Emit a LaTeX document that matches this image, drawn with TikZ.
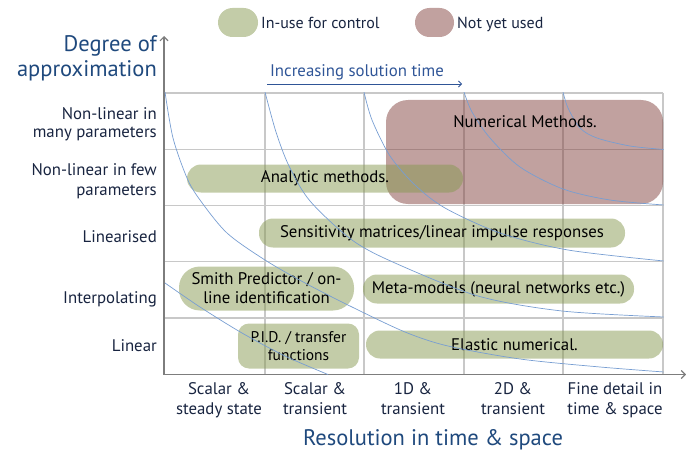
\documentclass[tikz,border=0pt]{standalone}
\usepackage{fontspec}
\setmainfont{PT Sans}
\usetikzlibrary{arrows.meta}

\definecolor{titleblue}{RGB}{31,73,125}
\definecolor{labelnavy}{RGB}{24,36,64}
\definecolor{usegreen}{RGB}{135,153,81}
\definecolor{notbrown}{RGB}{131,67,63}
\definecolor{curveblue}{RGB}{120,158,210}
\definecolor{gridgray}{RGB}{200,200,200}
\definecolor{axisgray}{RGB}{125,125,125}
\definecolor{timeblue}{RGB}{47,85,151}

\tikzset{
  txt/.style={font=\fontsize{16.8}{19}\selectfont, inner sep=0pt},
  rowlabel/.style={txt, text=labelnavy, anchor=base east},
  collabel/.style={txt, text=labelnavy, anchor=base},
  bigtitle/.style={font=\fontsize{22.5}{26}\selectfont, text=titleblue, inner sep=0pt},
  greenbox/.style={txt, fill=usegreen, fill opacity=.5, text opacity=1, align=center},
  brownbox/.style={txt, fill=notbrown, fill opacity=.5, text opacity=1},
  gridline/.style={draw=gridgray, line width=1.1pt},
  axisline/.style={draw=axisgray, line width=1.6pt, -{Straight Barb[length=4pt,width=8pt,line width=1.1pt]}},
  isocurve/.style={draw=curveblue, line width=0.7pt},
}

\begin{document}
\begin{tikzpicture}[x=1pt,y=-1pt]
\useasboundingbox (0,0) rectangle (686,452);

% legend
\node[greenbox, rounded corners=14.5pt, minimum width=40, minimum height=29] (leguse) at (238,22.5) {};
\node[txt, text=labelnavy, anchor=base west, font=\fontsize{16}{19}\selectfont] (leguselbl) at (261,29) {In-use for control};
\node[brownbox, rounded corners=14.5pt, minimum width=39, minimum height=29] (legnot) at (434.5,22.5) {};
\node[txt, text=labelnavy, anchor=base west, font=\fontsize{16}{19}\selectfont] (legnotlbl) at (457,29) {Not yet used};

% axis titles
\node[bigtitle, anchor=base east] (ytitlea) at (157,52) {Degree of};
\node[bigtitle, anchor=base east] (ytitleb) at (157,77) {approximation};
\node[bigtitle, anchor=base] (xtitle) at (433,445) {Resolution in time \& space};

% solution time arrow
\node[txt, text=timeblue, anchor=base] (timelbl) at (357,77) {Increasing solution time};
\coordinate (tstart) at (267,84);
\coordinate (tend) at (462,84);
\draw[timeblue, line width=0.9pt, -{Straight Barb[length=3pt,width=6pt,line width=0.8pt]}] (tstart) -- (tend);

% grid
\foreach \gy in {93,149.5,205.5,261.7,318}
  \draw[gridline] (164,\gy) -- (663,\gy);
\foreach \gx in {265,364,464,563,663}
  \draw[gridline] (\gx,93) -- (\gx,374);

% axes
\coordinate (origin) at (164,374.5);
\coordinate (ytip) at (164,36);
\coordinate (xtip) at (686,374.5);
\draw[axisline] (origin) -- (ytip);
\draw[axisline] (163.2,374.5) -- (xtip);

% method regions
\node[brownbox, rounded corners=22pt, minimum width=277, minimum height=104] (numeric) at (524.5,152) {};
\node[greenbox, rounded corners=14pt, minimum width=276, minimum height=28] (analytic) at (325,178.5) {Analytic methods.};
\node[greenbox, rounded corners=14pt, minimum width=366, minimum height=29] (sensitivity) at (442,233) {Sensitivity matrices/linear impulse responses};
\node[greenbox, rounded corners=21pt, minimum width=175, minimum height=44] (smith) at (266.5,288.5) {Smith Predictor / on-\\line identification};
\node[greenbox, rounded corners=14pt, minimum width=271, minimum height=29] (meta) at (498.5,289) {Meta-models (neural networks etc.)};
\node[greenbox, rounded corners=11pt, minimum width=121, minimum height=45, font=\fontsize{15.5}{17.5}\selectfont] (pid) at (298.5,346) {P.I.D. / transfer\\functions};
\node[greenbox, rounded corners=14pt, minimum width=297, minimum height=28] (elastic) at (514.5,344.5) {Elastic numerical.};

% iso-time curves
\begin{scope}
\clip (164,93) rectangle (663.5,374);
\draw[isocurve] plot[smooth] coordinates {(165,92) (173,138) (187,178) (200,200) (227,233) (265,260) (305,283) (352,307) (405,332) (448,346) (520,359) (600,367) (664,372)};
\draw[isocurve] plot[smooth] coordinates {(265,92) (276,132) (289,166) (310,201) (352,240) (395,263) (478,296) (562,311) (664,317)};
\draw[isocurve] plot[smooth] coordinates {(364,92) (372,120) (390,156) (415,185) (445,208) (500,233) (568,250) (664,261)};
\draw[isocurve] plot[smooth] coordinates {(464,92) (472,112) (490,138) (520,167) (563,189) (610,200) (664,205)};
\draw[isocurve] plot[smooth] coordinates {(563,92) (568,108) (580,128) (597,138) (630,146) (664,149.5)};
\draw[isocurve] plot[smooth] coordinates {(165,283) (200,307) (242,333) (285,356) (328,374.5)};
\end{scope}

% label of the numerical region
\node[txt, anchor=base] (numericlbl) at (525,127.5) {Numerical Methods.};

% row labels
\node[rowlabel] (r1a) at (157,119) {Non-linear in};
\node[rowlabel] (r1b) at (157,138) {many parameters};
\node[rowlabel] (r2a) at (157,175.5) {Non-linear in few};
\node[rowlabel] (r2b) at (157,195) {parameters};
\node[rowlabel] (r3) at (157,242.3) {Linearised};
\node[rowlabel] (r4) at (157,303) {Interpolating};
\node[rowlabel] (r5) at (157,351.7) {Linear};

% column labels
\node[collabel] (c1a) at (219,394.7) {Scalar \&};
\node[collabel] (c1b) at (219,414.7) {steady state};
\node[collabel] (c2a) at (315,394.7) {Scalar \&};
\node[collabel] (c2b) at (315,414.7) {transient};
\node[collabel] (c3a) at (413,394.7) {1D \&};
\node[collabel] (c3b) at (413,414.7) {transient};
\node[collabel] (c4a) at (513,394.7) {2D \&};
\node[collabel] (c4b) at (513,414.7) {transient};
\node[collabel] (c5a) at (615,394.7) {Fine detail in};
\node[collabel] (c5b) at (615,414.7) {time \& space};
\end{tikzpicture}
\end{document}
